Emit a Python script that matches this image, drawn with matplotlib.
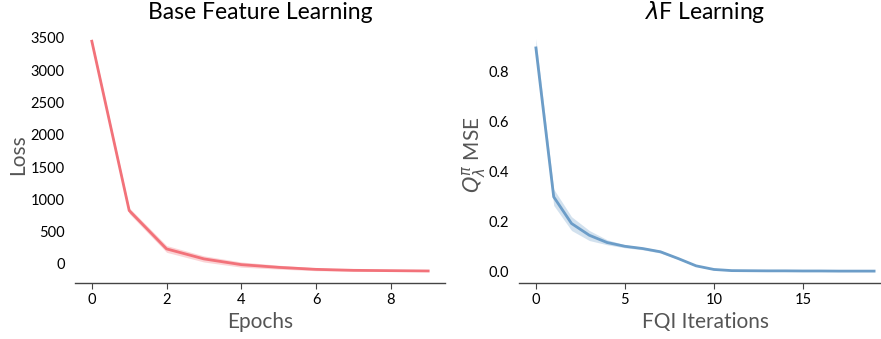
import matplotlib
matplotlib.use("Agg")
import matplotlib.pyplot as plt
import numpy as np

plt.rcParams['font.family'] = ['Lato', 'DejaVu Sans']
plt.rcParams['mathtext.fontset'] = 'dejavusans'

# Left panel data
epochs = [0, 1, 2, 3, 4, 5, 6, 7, 8, 9]
loss_mean = [3450, 827, 233, 78, -11, -53, -84, -99, -104, -109]
loss_low = [3420, 780, 180, 30, -50, -80, -105, -112, -112, -115]
loss_high = [3490, 870, 285, 125, 30, -20, -60, -85, -96, -103]

# Right panel data
iters = list(range(20))
mse_mean = [0.893, 0.299, 0.193, 0.146, 0.117, 0.102, 0.093, 0.080, 0.053, 0.024,
            0.0096, 0.005, 0.0045, 0.004, 0.004, 0.0035, 0.0035, 0.003, 0.003, 0.003]
mse_low = [0.86, 0.265, 0.165, 0.125, 0.108, 0.096, 0.088, 0.075, 0.050, 0.022,
           0.008, 0.004, 0.0035, 0.003, 0.003, 0.0025, 0.0025, 0.002, 0.002, 0.002]
mse_high = [0.93, 0.33, 0.22, 0.165, 0.128, 0.108, 0.098, 0.086, 0.056, 0.026,
            0.011, 0.006, 0.0055, 0.005, 0.005, 0.0045, 0.0045, 0.004, 0.004, 0.004]

red = '#F2727A'
blue = '#6C9DC8'
label_color = '#555555'

fig = plt.figure(figsize=(8.81, 3.39), dpi=100)
W, H = 881, 339
ax1 = fig.add_axes([75 / W, 1 - 283 / H, 370 / W, 256 / H])
ax2 = fig.add_axes([519 / W, 1 - 283 / H, 372 / W, 256 / H])

ax1.fill_between(epochs, loss_low, loss_high, color=red, alpha=0.3, linewidth=0)
ax1.plot(epochs, loss_mean, color=red, linewidth=2)
ax2.fill_between(iters, mse_low, mse_high, color=blue, alpha=0.3, linewidth=0)
ax2.plot(iters, mse_mean, color=blue, linewidth=2)

ax1.set_xticks([0, 2, 4, 6, 8])
ax1.set_yticks([0, 500, 1000, 1500, 2000, 2500, 3000, 3500])
ax2.set_xticks([0, 5, 10, 15])
ax2.set_yticks([0.0, 0.2, 0.4, 0.6, 0.8])

for ax in (ax1, ax2):
    for s in ('top', 'right', 'left'):
        ax.spines[s].set_visible(False)
    ax.spines['bottom'].set_color('#444444')
    ax.spines['bottom'].set_linewidth(1.0)
    ax.tick_params(axis='x', length=4, color='#444444', labelsize=10.5, pad=3)
    ax.tick_params(axis='y', length=0, labelsize=10.5, pad=7.5)
    ax.set_facecolor('white')

ax1.set_title('Base Feature Learning', fontsize=16.5, pad=6)
ax2.set_title(r'$\lambda$F Learning', fontsize=16.5, pad=6)
ax1.set_xlabel('Epochs', fontsize=15, color=label_color, labelpad=4)
ax1.set_ylabel('Loss', fontsize=15, color=label_color, labelpad=2)
ax2.set_xlabel('FQI Iterations', fontsize=15, color=label_color, labelpad=4)
ax2.set_ylabel(r'$Q^{\pi}_{\lambda}$ MSE', fontsize=15, color=label_color, labelpad=0)

fig.savefig('out.png', dpi=100, facecolor='white')
